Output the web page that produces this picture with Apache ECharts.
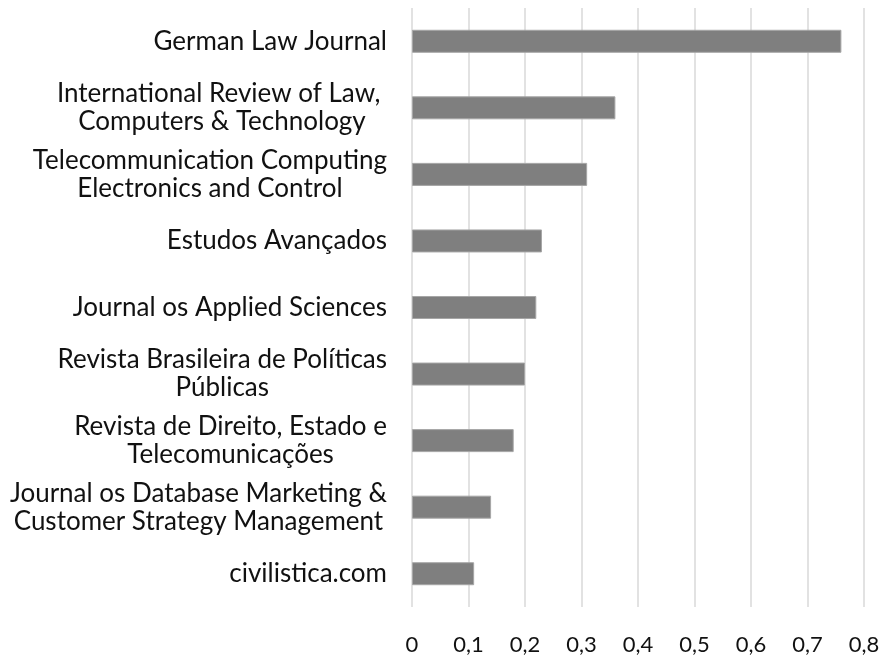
<!DOCTYPE html>
<html>
<head>
<meta charset="utf-8">
<script src="https://cdn.jsdelivr.net/npm/echarts@6/dist/echarts.min.js"></script>
<style>
  html, body { margin: 0; padding: 0; background: #fff; }
  #chart { width: 885px; height: 657px; }
</style>
</head>
<body>
<div id="chart"></div>
<script>
// journals, top to bottom
const journals = [
  ['German Law Journal'],
  ['International Review of Law, ', 'Computers & Technology'],
  ['Telecommunication Computing', 'Electronics and Control'],
  ['Estudos Avançados'],
  ['Journal os Applied Sciences'],
  ['Revista Brasileira de Políticas', 'Públicas'],
  ['Revista de Direito, Estado e', 'Telecomunicações'],
  ['Journal os Database Marketing &', 'Customer Strategy Management'],
  ['civilistica.com']
]
const values = [0.76, 0.36, 0.31, 0.23, 0.22, 0.20, 0.18, 0.14, 0.11]

const chart = echarts.init(document.getElementById('chart'))

const option = {
  animation: false,
  grid: { left: 412, right: 21, top: 8, bottom: 50, containLabel: false },
  xAxis: {
    type: 'value',
    min: 0,
    max: 0.8,
    interval: 0.1,
    axisLine: { show: false },
    axisTick: { show: false },
    axisLabel: {
      margin: 27,
      fontSize: 22,
      color: '#111',
      fontFamily: 'Lato',
      formatter: (v) => (v === 0 ? '0' : v.toFixed(1).replace('.', ','))
    },
    splitLine: { show: true, lineStyle: { color: '#d9d9d9', width: 1.5 } }
  },
  yAxis: {
    type: 'category',
    inverse: true,
    data: journals.map((lines, i) => String(i)),
    axisLine: { show: false },
    axisTick: { show: false },
    axisLabel: {
      margin: 25,
      fontSize: 26,
      lineHeight: 28,
      color: '#111',
      fontFamily: 'Lato',
      formatter: (v) => journals[+v].map((l) => '{c|' + l + '}').join('\n'),
      rich: {
        c: { align: 'center', fontSize: 26, lineHeight: 28, fontFamily: 'Lato', color: '#111' }
      }
    }
  },
  series: [
    {
      type: 'bar',
      data: values,
      barWidth: 23,
      itemStyle: { color: '#7f7f7f', borderColor: '#a6a6a6', borderWidth: 1 }
    }
  ]
}

chart.setOption(option)
</script>
</body>
</html>
